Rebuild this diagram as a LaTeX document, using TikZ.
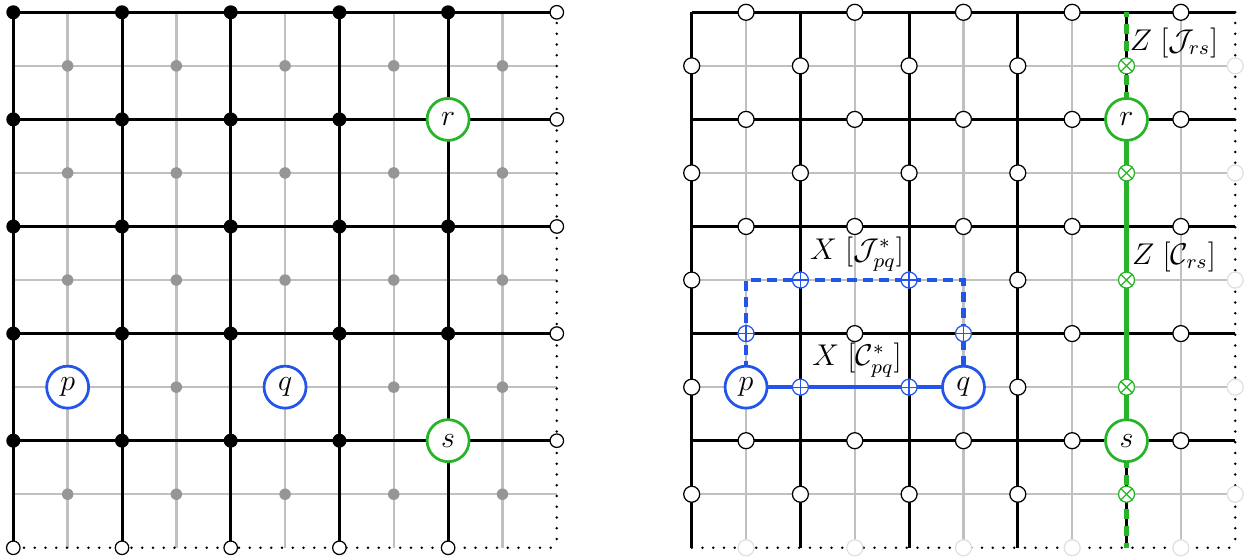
\documentclass[tikz,border=0pt]{standalone}
\usetikzlibrary{calc}
\definecolor{qblue}{RGB}{35,85,235}
\definecolor{qgreen}{RGB}{40,180,40}
\definecolor{lgray}{RGB}{192,192,192}
\definecolor{dgray}{RGB}{150,150,150}
\begin{document}
\begin{tikzpicture}[x=0.4pt,y=-0.4pt,
 blk/.style={line width=1.2pt,black},
 gry/.style={line width=1pt,lgray},
 dotl/.style={line width=1.1pt,dash pattern=on 0pt off 4.3pt,line cap=round},
 vtx/.style={circle,fill=black,inner sep=0pt,minimum size=5.6pt},
 fc/.style={circle,fill=dgray,inner sep=0pt,minimum size=4.6pt},
 wl/.style={circle,draw=black,fill=white,line width=0.5pt,inner sep=0pt,minimum size=5.4pt},
 wr/.style={circle,draw=black,fill=white,line width=0.5pt,inner sep=0pt,minimum size=6.4pt},
 fd/.style={circle,draw=black!12,fill=white,line width=0.5pt,inner sep=0pt,minimum size=6.4pt},
 bq/.style={circle,draw=qblue,fill=white,line width=1.1pt,inner sep=0pt,minimum size=16.8pt,font=\large},
 gq/.style={circle,draw=qgreen,fill=white,line width=1.1pt,inner sep=0pt,minimum size=16.8pt,font=\large},
 op/.style={circle,draw=qblue,fill=white,line width=0.5pt,inner sep=0pt,minimum size=6.4pt},
 ot/.style={circle,draw=qgreen,fill=white,line width=0.5pt,inner sep=0pt,minimum size=6.4pt},
 bl/.style={line width=1.7pt,qblue},
 bld/.style={line width=1.7pt,qblue,dash pattern=on 4pt off 2.4pt},
 gl/.style={line width=2pt,qgreen},
 gld/.style={line width=2pt,qgreen,dash pattern=on 4pt off 2.8pt},
 lab/.style={font=\large,inner sep=1pt}
]
\useasboundingbox (0,0) rectangle (1245,557);
% ---------------- grid lines (both lattices) ----------------
\foreach \xo in {13.3,691.7}{
  \foreach \i in {1,3,5,7,9}
    \draw[gry] ({\xo+\i*54.35},12.3) -- ({\xo+\i*54.35},547.8);
  \foreach \j in {1,3,5,7,9}
    \draw[gry] (\xo,{12.3+\j*53.55}) -- ({\xo+543.5},{12.3+\j*53.55});
  \foreach \i in {0,2,4,6,8}
    \draw[blk] ({\xo+\i*54.35},12.3) -- ({\xo+\i*54.35},547.8);
  \foreach \j in {0,2,4,6,8}
    \draw[blk] (\xo,{12.3+\j*53.55}) -- ({\xo+543.5},{12.3+\j*53.55});
  \draw[dotl] ({\xo+543.5},12.3) -- ({\xo+543.5},547.8);
  \draw[dotl] (\xo,547.8) -- ({\xo+543.5},547.8);
}
% ---------------- left lattice: vertices and faces ----------------
\foreach \i in {0,2,4,6,8}{
  \foreach \j in {0,2,4,6,8}{
    \pgfmathtruncatemacro\skp{(\i==8 && \j==2) || (\i==8 && \j==8)}
    \ifnum\skp=0
      \node[vtx] (v-\i-\j) at ({13.3+\i*54.35},{12.3+\j*53.55}) {};
    \fi
  }
}
\foreach \i in {1,3,5,7,9}{
  \foreach \j in {1,3,5,7,9}{
    \pgfmathtruncatemacro\skp{(\i==1 && \j==7) || (\i==5 && \j==7)}
    \ifnum\skp=0
      \node[fc] (f-\i-\j) at ({13.3+\i*54.35},{12.3+\j*53.55}) {};
    \fi
  }
}
\foreach \k in {0,2,4,6,8}{
  \node[wl] (br-\k) at (556.8,{12.3+\k*53.55}) {};
  \node[wl] (bb-\k) at ({13.3+\k*54.35},547.8) {};
}
\node[bq] (p1) at ({13.3+1*54.35},{12.3+7*53.55}) {$p$};
\node[bq] (q1) at ({13.3+5*54.35},{12.3+7*53.55}) {$q$};
\node[gq] (r1) at ({13.3+8*54.35},{12.3+2*53.55}) {$r$};
\node[gq] (s1) at ({13.3+8*54.35},{12.3+8*53.55}) {$s$};
% ---------------- right lattice: strings ----------------
\coordinate (P) at ({691.7+1*54.35},{12.3+7*53.55});
\coordinate (Q) at ({691.7+5*54.35},{12.3+7*53.55});
\coordinate (R) at ({691.7+8*54.35},{12.3+2*53.55});
\coordinate (S) at ({691.7+8*54.35},{12.3+8*53.55});
\coordinate (PU) at ({691.7+1*54.35},{12.3+5*53.55});
\coordinate (QU) at ({691.7+5*54.35},{12.3+5*53.55});
\coordinate (RT) at ({691.7+8*54.35},12.3);
\coordinate (SB) at ({691.7+8*54.35},547.8);
\draw[bl] (P) -- (Q);
\draw[bld] (P) -- (PU) -- (QU) -- (Q);
\draw[gl] (R) -- (S);
\draw[gld] (R) -- (RT);
\draw[gld] (S) -- (SB);
% ---------------- right lattice: edge qubits ----------------
\foreach \i in {1,3,5,7,9}{
  \foreach \j in {0,2,4,6,8}{
    \pgfmathtruncatemacro\skp{(\i==1 && \j==6) || (\i==5 && \j==6)}
    \ifnum\skp=0
      \node[wr] (eh-\i-\j) at ({691.7+\i*54.35},{12.3+\j*53.55}) {};
    \fi
  }
}
\foreach \i in {0,2,4,6,8}{
  \foreach \j in {1,3,5,7,9}{
    \pgfmathtruncatemacro\skp{(\i==2 && \j==7) || (\i==4 && \j==7) || (\i==2 && \j==5) || (\i==4 && \j==5) || \i==8}
    \ifnum\skp=0
      \node[wr] (ev-\i-\j) at ({691.7+\i*54.35},{12.3+\j*53.55}) {};
    \fi
  }
}
\foreach \k in {1,3,5,7,9}{
  \node[fd] (fr-\k) at (1235.2,{12.3+\k*53.55}) {};
  \node[fd] (fb-\k) at ({691.7+\k*54.35},547.8) {};
}
% X markers
\foreach \n/\i/\j in {a/2/7,b/4/7,c/1/6,d/2/5,e/4/5,f/5/6}{
  \node[op] (x\n) at ({691.7+\i*54.35},{12.3+\j*53.55}) {};
  \draw[qblue,line width=0.5pt] (x\n.north) -- (x\n.south) (x\n.east) -- (x\n.west);
}
% Z markers
\foreach \j in {1,3,5,7,9}{
  \node[ot] (z\j) at ({691.7+8*54.35},{12.3+\j*53.55}) {};
  \draw[qgreen,line width=0.5pt] (z\j.north east) -- (z\j.south west) (z\j.north west) -- (z\j.south east);
}
\node[bq] (p2) at (P) {$p$};
\node[bq] (q2) at (Q) {$q$};
\node[gq] (r2) at (R) {$r$};
\node[gq] (s2) at (S) {$s$};
% labels
\node[lab] (lj) at (857,254) {$X\;\bigl[\mathcal{J}^{*}_{pq}\bigr]$};
\node[lab] (lc) at (857,360) {$X\;\bigl[\mathcal{C}^{*}_{pq}\bigr]$};
\node[lab] (lz1) at (1174,43) {$Z\;\bigl[\mathcal{J}_{rs}\bigr]$};
\node[lab] (lz2) at (1174,257) {$Z\;\bigl[\mathcal{C}_{rs}\bigr]$};
\end{tikzpicture}
\end{document}
